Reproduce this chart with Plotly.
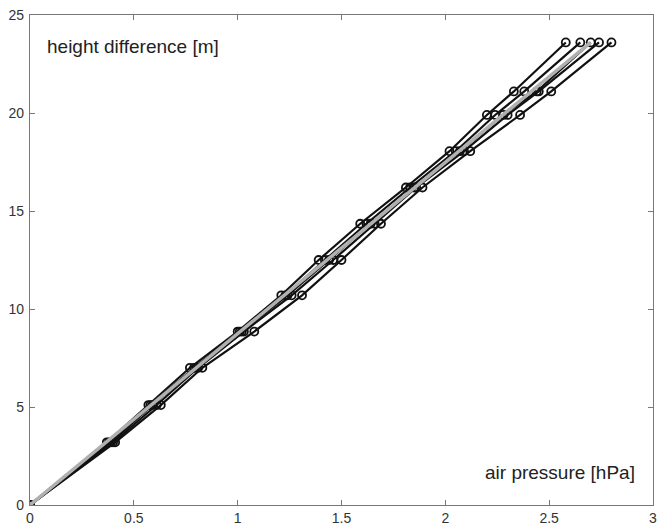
import plotly.graph_objects as go

heights = [0, 3.2, 5.1, 7.0, 8.85, 10.7, 12.5, 14.35, 16.2, 18.05, 19.9, 21.1, 23.6]

pressure_a = [0, 0.37, 0.57, 0.77, 1.00, 1.21, 1.39, 1.59, 1.81, 2.02, 2.20, 2.33, 2.58]
pressure_b = [0, 0.38, 0.58, 0.79, 1.01, 1.23, 1.42, 1.62, 1.83, 2.05, 2.24, 2.38, 2.65]
pressure_c = [0, 0.39, 0.59, 0.80, 1.02, 1.24, 1.44, 1.64, 1.85, 2.07, 2.28, 2.44, 2.70]
pressure_d = [0, 0.40, 0.61, 0.81, 1.03, 1.26, 1.46, 1.66, 1.86, 2.09, 2.30, 2.45, 2.74]
pressure_e = [0, 0.41, 0.63, 0.83, 1.08, 1.31, 1.50, 1.69, 1.89, 2.12, 2.36, 2.51, 2.80]

fit_x = [0, 2.70]
fit_y = [0, 23.6]

x_ticks = [0, 0.5, 1, 1.5, 2, 2.5, 3]
x_tick_labels = ["0", "0.5", "1", "1.5", "2", "2.5", "3"]
y_ticks = [0, 5, 10, 15, 20, 25]
y_tick_labels = ["0", "5", "10", "15", "20", "25"]

FONT = "Liberation Sans, Arial, sans-serif"

fig = go.Figure()

for series in [pressure_a, pressure_b, pressure_c, pressure_d, pressure_e]:
    fig.add_trace(go.Scatter(
        x=series, y=heights, mode="lines+markers",
        line=dict(color="#111111", width=2.2),
        marker=dict(symbol="circle-open", size=8, color="#111111", line=dict(width=1.8)),
        showlegend=False,
    ))

fig.add_trace(go.Scatter(
    x=fit_x, y=fit_y, mode="lines",
    line=dict(color="#b0b0b0", width=3.5),
    showlegend=False,
))

axis_common = dict(
    showline=True, linecolor="#777777", linewidth=1.2, mirror="ticks",
    ticks="inside", ticklen=5, tickcolor="#777777", tickwidth=1,
    showgrid=False, zeroline=False, automargin=False,
    tickfont=dict(family=FONT, size=14, color="#333333"),
)

fig.update_layout(
    width=658, height=525,
    margin=dict(l=30, r=5, t=15, b=20),
    paper_bgcolor="white", plot_bgcolor="white",
    xaxis=dict(range=[0, 3], tickvals=x_ticks, ticktext=x_tick_labels, ticklabelstandoff=0, **axis_common),
    yaxis=dict(range=[0, 25], tickvals=y_ticks, ticktext=y_tick_labels, ticklabelstandoff=2, **axis_common),
    annotations=[
        dict(text="height difference [m]", x=15 / 623, y=0.935, xref="paper", yref="paper",
             xanchor="left", yanchor="middle", showarrow=False,
             font=dict(family=FONT, size=19, color="#222222")),
        dict(text="air pressure [hPa]", x=0.975, y=0.067, xref="paper", yref="paper",
             xanchor="right", yanchor="middle", showarrow=False,
             font=dict(family=FONT, size=19, color="#222222")),
    ],
)

fig.write_html(
    "out.html",
    config={"displayModeBar": False},
    post_script="document.body.style.margin='0';document.body.style.overflow='hidden';",
)
